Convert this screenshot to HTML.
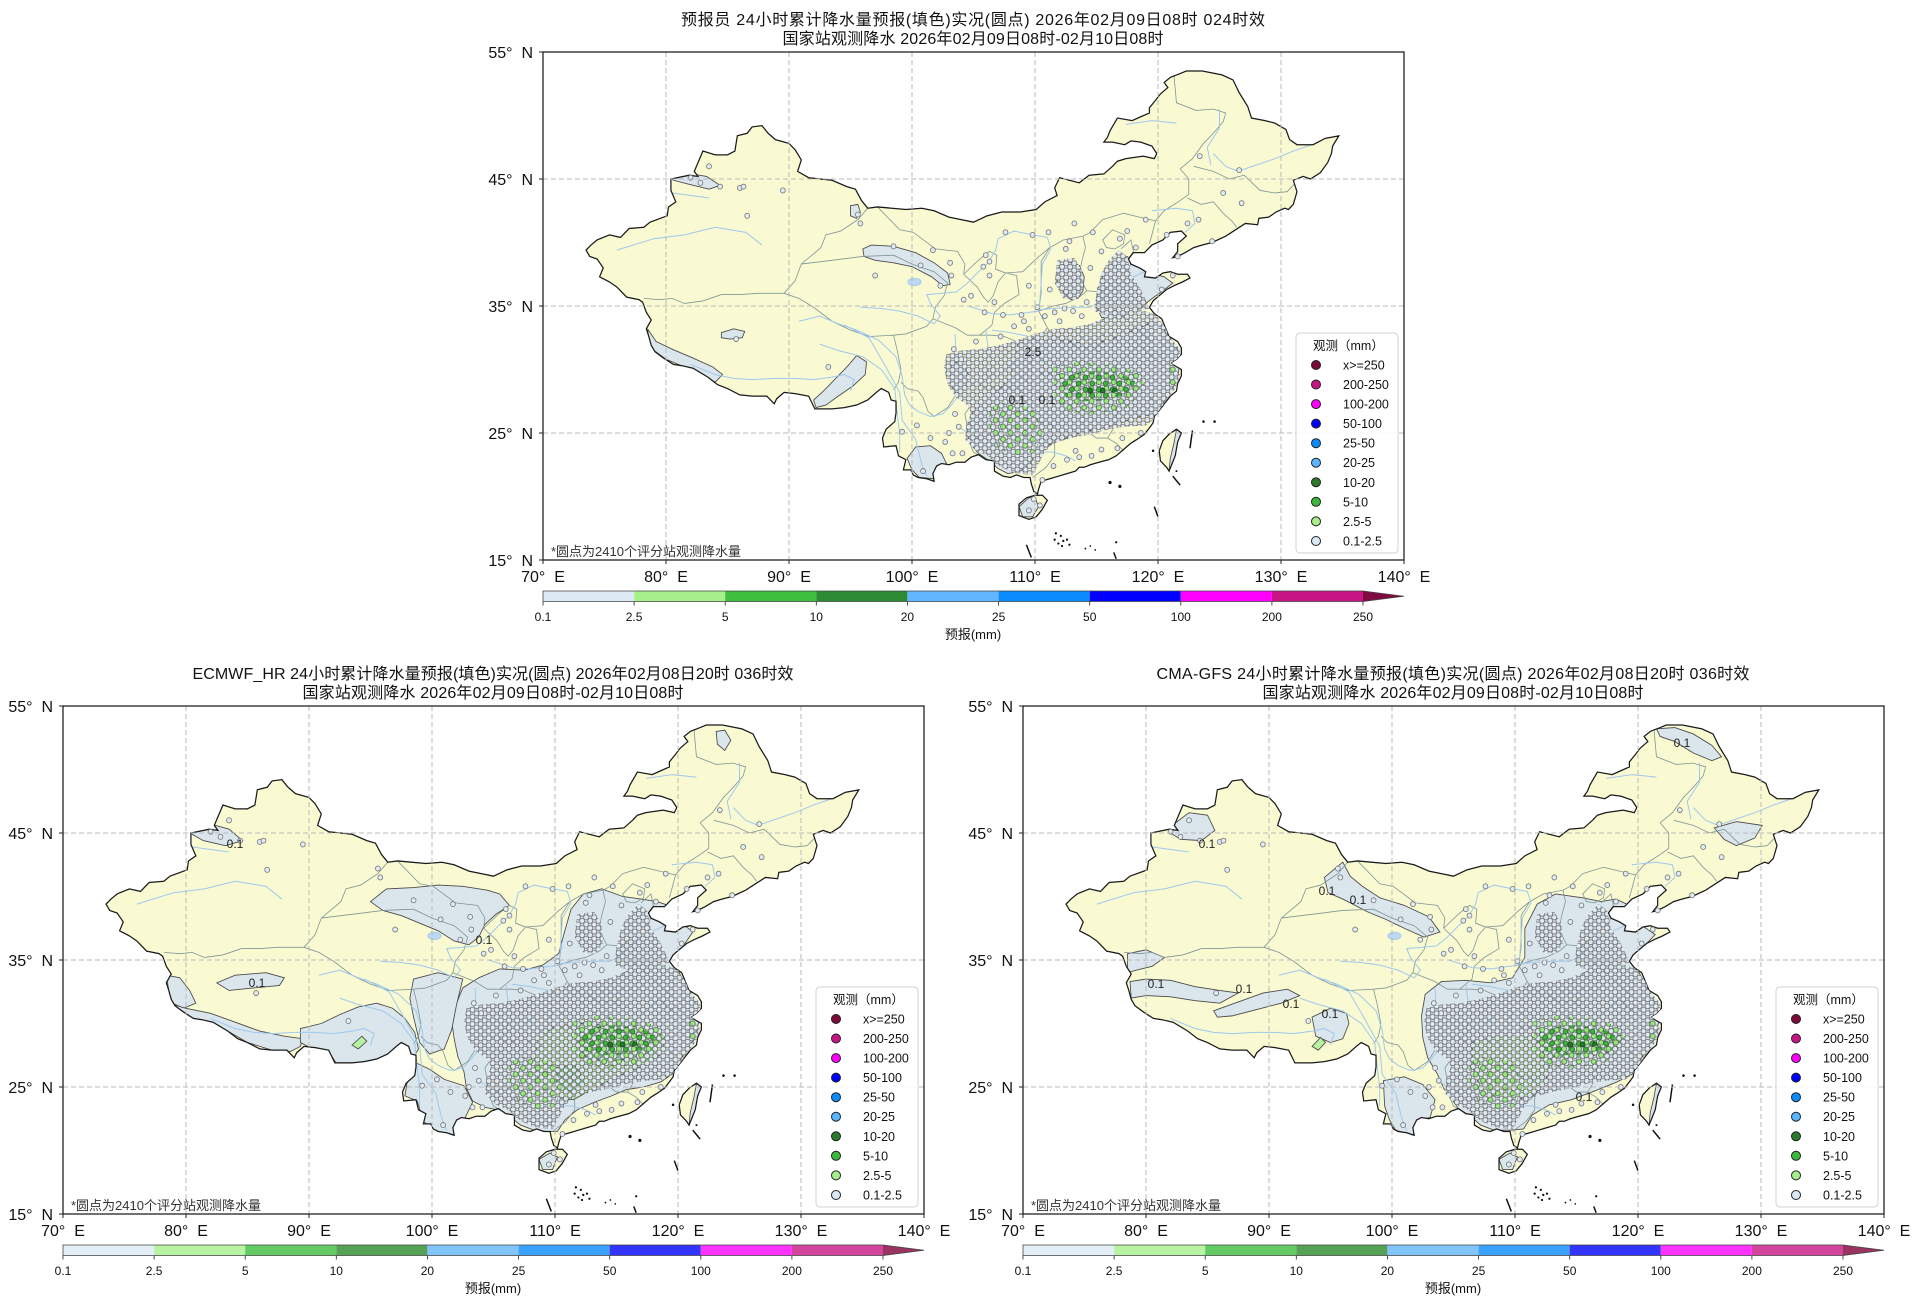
<!DOCTYPE html>
<html><head><meta charset="utf-8"><style>
html,body{margin:0;padding:0;background:#fff}
svg{display:block}
text{font-family:"Liberation Sans","Noto Sans CJK SC",sans-serif;fill:#111}
.t{font-size:16px}.lab{font-size:16px}.cb{font-size:12px}.lg{font-size:12.5px}.fn{font-size:13px;fill:#333}.cl{font-size:12px;fill:#222}
</style></head><body>
<svg xmlns="http://www.w3.org/2000/svg" width="1920" height="1306" viewBox="0 0 1920 1306">
<defs>
<path id="cn" d="M122.3 53.5 L123.6 53.5 125.2 53.2 126.1 52.8 126.6 51.8 127.3 50.7 127.6 49.8 128.7 49.6 129.5 49.4 130.4 48.9 130.7 48.1 131.3 47.7 132.6 47.7 133.6 48.2 134.7 48.4 134.2 47.6 134.1 47.0 133.8 46.3 133.2 45.5 132.4 45.0 131.8 45.2 131.0 44.9 131.3 44.0 131.0 43.0 130.6 42.6 130.3 42.7 129.6 42.4 129.0 42.0 128.2 41.9 128.1 41.4 127.1 41.5 126.3 41.0 125.5 40.5 124.4 40.0 123.6 39.8 122.9 39.6 122.2 39.2 121.6 38.9 121.2 38.8 121.6 39.3 121.6 39.9 122.3 40.5 121.9 40.9 121.0 40.8 120.4 40.2 119.5 39.8 118.9 39.2 118.0 39.2 117.6 38.7 117.8 38.3 118.5 38.0 119.0 37.7 118.9 37.3 119.8 37.2 120.4 37.6 121.0 37.7 121.6 37.5 122.4 37.5 122.6 37.2 122.0 36.9 121.3 36.6 120.7 36.3 120.2 35.9 119.6 35.4 119.3 34.9 119.7 34.4 120.3 34.0 120.6 33.3 120.9 32.6 121.6 32.2 121.9 31.7 121.9 31.2 121.5 30.8 121.0 30.5 121.9 30.0 121.9 29.5 121.6 28.9 121.5 28.3 121.0 27.9 120.6 27.4 120.2 26.9 119.7 26.3 119.6 25.8 119.3 25.4 118.9 24.9 118.3 24.5 117.8 24.2 117.2 23.7 116.6 23.2 116.0 22.9 115.2 22.7 114.5 22.5 114.0 22.3 113.6 22.3 113.3 22.0 112.6 21.8 111.9 21.6 111.2 21.4 110.5 21.2 110.3 20.6 110.2 20.2 109.9 20.4 109.7 21.0 109.6 21.5 109.1 21.5 108.5 21.7 108.0 21.5 107.4 21.6 106.7 22.0 106.7 22.8 106.0 22.9 105.4 23.3 104.8 23.1 104.3 22.7 103.6 22.7 103.0 22.5 102.4 22.6 102.0 22.4 101.7 21.8 101.8 21.2 101.2 21.4 100.5 21.5 100.1 21.7 99.9 22.1 99.3 22.1 99.5 22.9 98.9 23.2 98.7 24.0 97.7 23.9 97.6 24.6 97.9 25.3 98.6 25.9 98.7 26.6 98.7 27.5 98.3 27.6 98.1 28.2 97.5 28.5 97.1 28.2 96.4 27.6 95.5 27.2 94.5 27.0 93.5 26.9 92.1 26.9 91.8 27.5 91.6 27.9 90.5 28.1 89.6 28.2 89.0 27.7 88.8 27.3 88.2 27.9 87.0 27.9 86.0 28.0 85.0 28.5 84.2 28.8 83.4 29.4 82.2 30.1 81.3 30.3 80.6 30.4 79.8 30.9 79.1 31.4 78.8 31.9 78.6 32.6 78.4 33.2 78.8 33.9 78.4 34.5 78.1 35.3 77.8 35.5 76.8 35.7 76.0 36.5 75.4 36.9 74.6 37.3 74.9 38.0 74.4 38.7 73.8 38.9 73.5 39.4 73.9 39.8 74.4 40.2 75.4 40.6 76.3 40.4 77.0 41.1 78.2 41.2 78.7 41.6 80.1 42.1 80.2 42.8 80.8 43.2 80.4 44.1 80.4 45.0 81.9 45.3 82.6 45.2 82.3 45.6 83.0 47.2 84.0 46.9 85.0 46.9 85.6 47.2 85.8 48.4 86.6 48.6 87.0 49.1 87.8 49.2 88.3 48.6 88.9 48.1 90.0 47.8 90.5 47.3 91.0 46.5 90.7 45.6 91.6 45.1 93.5 44.9 94.7 44.4 95.4 44.2 95.9 43.3 96.4 42.7 97.2 42.8 99.5 42.6 100.8 42.7 101.8 42.5 103.0 42.0 104.0 41.8 105.0 41.6 106.1 42.1 107.3 42.4 108.8 42.4 110.1 42.6 110.8 43.2 111.8 43.7 111.6 44.3 112.0 45.1 113.6 44.7 114.4 45.3 115.6 45.4 116.3 46.0 116.7 46.4 117.4 46.6 118.8 46.8 119.7 46.6 119.9 47.0 119.5 47.6 118.6 47.9 117.8 48.0 117.3 47.7 116.3 47.9 115.6 47.9 115.9 48.3 116.1 48.8 116.7 49.8 117.9 49.6 118.6 49.9 119.3 50.2 119.3 50.6 119.8 51.2 120.2 51.7 120.8 52.2 120.5 52.6 121.0 53.0 121.8 53.3 Z M108.7 19.0 L108.7 18.5 109.5 18.2 110.1 18.4 110.6 19.0 111.0 19.7 110.6 20.1 110.0 20.1 109.3 19.9 108.7 19.4 Z M121.5 25.3 L121.9 25.0 121.6 24.3 121.4 23.2 120.9 22.0 120.7 22.3 120.2 22.8 120.1 23.6 120.4 24.4 120.9 24.9 Z"/>
<clipPath id="clipcn"><use href="#cn"/></clipPath>
<pattern id="pd" patternUnits="userSpaceOnUse" width="0.66" height="0.56">
<g fill="#e0eaf4" stroke="#6e6e6e" stroke-width="0.06"><circle cx="0.33" cy="0.28" r="0.2"/><circle cx="0" cy="0" r="0.2"/><circle cx="0.66" cy="0" r="0.2"/><circle cx="0" cy="0.56" r="0.2"/><circle cx="0.66" cy="0.56" r="0.2"/></g></pattern>
<pattern id="pgl" patternUnits="userSpaceOnUse" width="1.2" height="1.0">
<g fill="#9be87f" stroke="#4a6b45" stroke-width="0.06"><circle cx="0.6" cy="0.5" r="0.2"/><circle cx="0" cy="0" r="0.2"/><circle cx="1.2" cy="0" r="0.2"/><circle cx="0" cy="1.0" r="0.2"/><circle cx="1.2" cy="1.0" r="0.2"/></g></pattern>
<pattern id="pgm" patternUnits="userSpaceOnUse" width="1.1" height="0.94">
<g fill="#3cb43c" stroke="#2a5a2a" stroke-width="0.06"><circle cx="0.25" cy="0.7" r="0.2"/><circle cx="0.8" cy="0.23" r="0.2"/></g></pattern>
<pattern id="pgd" patternUnits="userSpaceOnUse" width="1.0" height="0.9">
<g fill="#24782a" stroke="#173f17" stroke-width="0.06"><circle cx="0.5" cy="0.45" r="0.2"/></g></pattern>

<g id="prov" fill="none" stroke="#7f9696" stroke-width="0.065">
<path d="M78.2 35.6 L79.5 35.5 80.5 35.6 81.5 35.2 83 35.4 84.5 35.9 86 35.9 87.5 36 89.6 36 M89.6 36 L90.8 35.6 92 34.9 93.5 33.8 95 33.1 96.5 32.6 98.5 32.7 98.8 31.5 99.1 30 98.9 29 98.5 28.4 M89.6 36 L90.5 37 91 38.3 M96.4 42.7 L95.6 41.8 94.2 40.9 93 40.6 92.6 39.6 91 38.3 M91 38.3 L93.5 38.6 96 38.9 98.5 39 100 38.3 101.8 37.7 102.9 36.8 102.6 35.8 101.9 34.9 101.7 34 101.2 33.4 99.5 32.8 98.5 32.7 M97.2 42.8 L99 41 100.1 40.8 101.9 39.5 103.7 39.3 104.3 38.3 104.2 37.5 M101.7 34 L103.5 33.3 104.5 32.7 105.5 32.7 M105.5 32.7 L106.5 33.5 106.7 34.5 107.5 35.2 108.7 35.9 108.5 37.4 107.6 37.6 M104.2 37.5 L105.5 38.7 106.3 39.3 106.9 39 106.8 37.9 107.6 37.6 107 36.9 106.6 35.8 106.2 35.3 105.8 35.7 105.3 36.5 104.2 37.5 M107.6 37.6 L109 37.7 110.2 38.8 111.2 39.6 112.3 40.2 113.9 40.5 114.5 40.8 115.5 41.8 117.2 42.3 118.5 42 119.8 41.7 120.5 42.5 121.8 43.3 122.5 43.8 122.5 45 121.8 45.8 122.8 46.6 123.7 47.8 124.4 48.5 125.3 49.5 125.5 50.2 124.5 50.5 123.1 50.4 121.5 51 121.3 53.2 M122.9 46 L124.5 45.6 125.8 45 127 45.3 128.3 44.1 129.5 43.9 130.5 44 131.1 44.6 M122.4 43.5 L123.5 43 124.5 43.2 125.3 42.3 126 41.7 126.4 41.2 M119.3 39.9 L119.5 40.6 119.8 41.7 M113.9 40.5 L114.1 39.6 113.8 38.5 113.6 37.5 113.9 36.8 114.2 36.2 M111.2 39.6 L110.5 38.5 110.5 37.5 110.5 36 110.4 35.3 110.3 34.6 M110.3 34.6 L111.5 35 112.5 35.2 113.6 35.7 114.2 36.2 M114.2 36.2 L115.4 36.1 115.9 36.5 116.5 37.3 117.5 37.8 117.8 38.3 M115.4 36.1 L115.5 35.2 116.3 34.7 117 34.6 117.8 34.5 118.5 34.6 119.2 35 M116.3 34.7 L116.6 34.5 115.5 33.9 115.3 33.2 115.6 32.6 115.2 32 114.8 31.5 M117 34.6 L117.3 34 118.3 33.7 118.5 32.9 119.2 32.4 118.8 31.6 119.3 31.1 M111 33.3 L111.5 32.6 112.5 32.4 113.5 31.7 114.5 31.7 114.8 31.5 M110.3 34.6 L111 33.3 M111 33.3 L110.5 32.6 109.5 32.4 108.5 32.2 107.5 32.6 106.5 32.7 105.5 32.7 M108.5 32.2 L108 31.5 107 30.8 106.3 30.2 106 29.5 105.5 28.7 106.3 28.5 M110.2 31.4 L109.5 30.4 108.8 29.3 108.5 28.3 107.4 28.8 106.3 28.5 M109.5 30.2 L110.5 29.7 111.5 29.7 112.5 29.5 113.8 29.3 114.5 29.4 115.5 29.8 116.1 29.8 M116.1 29.8 L115.6 30.2 116.1 30.8 115.8 31.3 114.8 31.5 M116.1 29.8 L117.2 29.6 118.2 29.6 118.8 30.3 119.4 30.9 119.3 31.1 M119.3 31.1 L120.4 31 121 30.7 M118.2 29.6 L118.5 28.5 118.9 27.9 119.7 27.6 120.3 27.2 M118.5 28.5 L117.5 27.6 116.5 26.3 116.4 25.4 115.9 24.6 M114 29.3 L114 28.2 113.8 27.3 113.9 26.3 114 25.3 M114 25.3 L115 24.6 115.9 24.6 M115.9 24.6 L116.6 24.2 117.2 23.6 M114 25.3 L113.3 25.4 112.5 25 111.8 25.1 111.3 25.7 110.5 25.8 110 26.2 109.5 26.2 M109.5 26.2 L109.3 27.3 108.8 28.2 109.3 29 109.5 30.2 M111.3 24.9 L111.6 24.3 111.6 23.2 110.9 22.3 109.8 21.5 M109.5 26.2 L108.5 25.6 107.3 25.4 106.2 24.9 105.5 24.7 104.6 24.4 M104.6 24.4 L105 23.5 105.5 23.2 M104.6 24.4 L104.5 25.5 104.3 26.5 104.8 27.2 105.5 27.8 106.3 28.5 M104.4 28.5 L103.7 28.2 102.9 27 101.8 26.3 101.3 26.7 100.9 27.8 100.5 28.3 99.6 28.5 99.1 29 M115.5 40.2 L116.3 41 117.3 40.6 117.2 39.9 116.5 39.5 115.8 39.6 Z M117 39.5 L117.8 40.2 118 39.3 117.5 38.6 117 38.9"/>
</g>
<g id="riv" fill="none" stroke="#9ec8ee" stroke-width="0.08">
<path d="M95.8 34.9 L97.5 34.8 99 34.6 100.5 34.2 101.8 33.6 102.3 34.2 101.5 35.2 101.2 35.9 102.5 36 103.6 36.1 104.5 36.8 105.2 37.5 106.2 38.4 106.8 39.4 107 40.3 108.3 40.9 109.8 40.6 111 40.4 111.3 39.5 110.6 38.3 110.5 36.8 110.4 35.5 110.3 34.7 111.5 34.8 113 34.9 114.5 34.9 115.5 35.5 116.3 36.2 117 36.8 118 37.3 118.9 37.7 M90.8 33.8 L92.5 34.2 94 33.6 95.5 33.1 97.3 32.3 98.7 31 99.2 29.5 99.4 28 99.8 27.2 100.5 26.7 101.5 26.3 102.5 26.5 103.2 27.2 104 28.2 104.7 28.8 105.6 29 106.5 29.6 107.4 29.9 108.4 30.6 109.5 31 110.5 30.8 111.3 30.5 112.3 30.2 113 29.6 113.8 30 114.3 30.6 115 30.2 116 29.8 117 30.6 117.8 31.3 118.5 32 119.5 32.2 120.5 31.9 121.5 31.6 M106.5 33.1 L108 32.9 109.5 32.6 110.8 32.6 112 32.1 112.5 31 113.5 30.8 114.2 30.6 M103.8 25.5 L104.8 24.8 106 24.3 107.2 23.8 108.4 23.5 109.5 23.4 110.5 23.5 111.4 23.5 112.5 23.2 113.3 22.8 M115 25.5 L115 26.8 115.5 28 116 29 M111.5 25.5 L112.5 26.9 113 28.3 112.9 29.2 M103.5 32.8 L103.6 31 104 29.6 104.6 28.8 M106 33.2 L106.2 31.5 106.5 30.2 M104.6 35 L106.5 34.4 108 34.3 109.5 34.5 110.3 34.6 M82 30.4 L84 29.6 85.5 29.3 87 29.2 88.8 29.3 90.5 29.3 92 29.2 93.5 29.4 94.5 29.6 95.3 29.2 95 28.3 M92.5 32 L94 31.5 96 31 97.5 30 98.6 28.5 98.8 26.5 99 25 99 23.5 M94.5 33.5 L96.5 32.5 97.7 30.5 99 28.2 99.2 26 100.3 24.5 100.8 22.5 101.2 21.6 M113.5 32.5 L115 32.4 116.5 32.8 118 33.3 118.8 33.2 M117.4 49.3 L119.5 49.6 121.5 49.4 M124.5 47 L125.5 46 126.5 45.6 128 46.1 129.5 46.6 131 47.2 132.5 47.7 M125 50.5 L125 49 124 47.5 124.3 46.1 M119.5 42.5 L121.5 42.7 122.8 42.5 123 41.5 122.2 40.8 M76 39.4 L79 40.3 81.5 40.6 84 41.2 86.5 40.8 87.8 39.8 M80.5 43.9 L82 43.7 83.5 43.5"/>
<g fill="#bcd8f0" stroke="#9ec8ee" stroke-width="0.05"><ellipse cx="100.2" cy="36.9" rx="0.55" ry="0.3"/><ellipse cx="116.3" cy="29.1" rx="0.25" ry="0.35"/><ellipse cx="112.9" cy="29.2" rx="0.3" ry="0.2"/><ellipse cx="120.2" cy="31.2" rx="0.25" ry="0.2"/></g>
</g>
<g id="misc" fill="#111" stroke="#111">
<path fill="none" stroke-width="0.12" d="M109.3 16.2 L109.7 15.2 M119.7 19.2 L120.0 18.4 M121.2 21.6 L121.8 20.9 M122.8 25.2 L122.6 23.8 M116.4 15.6 L116.6 15.1"/>
<g stroke="none"><circle cx="123.7" cy="25.9" r="0.1"/><circle cx="124.6" cy="25.9" r="0.1"/><circle cx="116.1" cy="21.1" r="0.13"/><circle cx="116.9" cy="20.8" r="0.13"/><circle cx="111.7" cy="17.1" r="0.09"/><circle cx="112.1" cy="16.9" r="0.09"/><circle cx="112.3" cy="16.5" r="0.09"/><circle cx="111.9" cy="16.3" r="0.09"/><circle cx="112.6" cy="16.6" r="0.09"/><circle cx="112.8" cy="16.2" r="0.09"/><circle cx="111.6" cy="16.6" r="0.09"/><circle cx="112.2" cy="16.1" r="0.09"/><circle cx="114.1" cy="15.9" r="0.07"/><circle cx="114.5" cy="16.1" r="0.07"/><circle cx="114.9" cy="15.8" r="0.07"/><circle cx="116.6" cy="16.4" r="0.09"/><circle cx="119.6" cy="23.6" r="0.1"/><circle cx="121.5" cy="22.0" r="0.08"/></g>
</g>
<g id="obs">
<g clip-path="url(#clipcn)" stroke="none">
<polygon fill="url(#pd)" points="102.8,31.2 104,31.5 105.5,31.6 107,31.9 108.5,32.3 110,32.8 111.5,33.2 113,33.3 114.5,33.6 116,34.2 117.5,34.5 119,34.6 119.8,34.3 120.6,33.3 120.9,32.6 121.8,31.6 121.8,30.8 121.2,30.3 121.8,29.6 121.5,28.6 120.7,27.6 120.1,26.8 119.6,26 119,25.6 117.5,25.5 116,25.3 114.5,24.9 113,24.6 111.5,24.2 110.8,23.5 110.2,22.4 109.8,21.7 108.5,21.8 107.5,22.2 106.8,22.6 106.2,23.2 105.2,23.6 104.3,24.5 104.4,25.6 104.8,26.6 104.5,27.2 103.6,27.8 102.9,28.8 102.6,30.1"/>
<polygon fill="url(#pd)" points="114.8,34.6 115,36 115.4,37.6 116,38.6 116.8,39.4 117.5,38.9 117.8,37.5 118.5,36.5 119,35.5 119.3,34.8 117.5,34.4 116,34.2"/>
<polygon fill="url(#pd)" points="111.8,38.6 113.2,38.8 113.8,37.8 113.9,36.3 113.3,35.5 112.3,35.6 111.6,36.8"/>
<polygon fill="url(#pgl)" points="106.3,27 108,27.5 110,26.8 110.6,25 110,23.5 108.5,23.2 107,23.8 106.2,25.5"/>
<polygon fill="url(#pgl)" points="111.5,30.2 113.5,30.6 116,30.4 118.5,29.8 119,28.5 117.5,27 115,26.5 113,26.6 111.6,27.6"/>
<polygon fill="url(#pgl)" points="120.8,30.5 121.6,30.2 121.5,28.5 120.8,28.8"/>
<polygon fill="url(#pgm)" points="112,29.4 114,29.9 116.5,29.7 118.2,29.2 117.8,28.2 116,27.6 114,27.5 112.5,27.8"/>
<polygon fill="url(#pgd)" points="113.5,28.7 115,28.9 116.5,28.8 116.8,28.3 115.5,27.9 114,28"/>
</g>
<g fill="#e0eaf4" stroke="#6e6e6e" stroke-width="0.06">
<circle cx="82" cy="45.1" r="0.2"/><circle cx="82.8" cy="44.7" r="0.2"/><circle cx="83.5" cy="46" r="0.2"/><circle cx="84.4" cy="44.4" r="0.2"/><circle cx="86" cy="44.3" r="0.2"/><circle cx="86.3" cy="44.4" r="0.2"/><circle cx="89.5" cy="44.1" r="0.2"/><circle cx="86.6" cy="42.1" r="0.2"/><circle cx="95.8" cy="41.5" r="0.2"/><circle cx="95.6" cy="42.2" r="0.2"/><circle cx="101.7" cy="39.4" r="0.2"/><circle cx="103.1" cy="38.4" r="0.2"/><circle cx="103.2" cy="37.4" r="0.2"/><circle cx="100.7" cy="38.2" r="0.2"/><circle cx="106" cy="39" r="0.2"/><circle cx="106.3" cy="38.5" r="0.2"/><circle cx="109.1" cy="33.8" r="0.2"/><circle cx="111.2" cy="36.3" r="0.2"/><circle cx="113.2" cy="41.5" r="0.2"/><circle cx="122.4" cy="41.5" r="0.2"/><circle cx="126.8" cy="43.1" r="0.2"/><circle cx="123.4" cy="46.8" r="0.2"/><circle cx="103" cy="25" r="0.2"/><circle cx="85.7" cy="32.4" r="0.2"/><circle cx="93.2" cy="30.2" r="0.2"/><circle cx="102.3" cy="36.6" r="0.2"/><circle cx="104.8" cy="35.8" r="0.2"/><circle cx="107.4" cy="34.3" r="0.2"/><circle cx="108.9" cy="34.3" r="0.2"/><circle cx="109.5" cy="36.6" r="0.2"/><circle cx="112.5" cy="39.5" r="0.2"/><circle cx="114.7" cy="40.8" r="0.2"/><circle cx="121.6" cy="38.9" r="0.2"/><circle cx="124.4" cy="40.1" r="0.2"/><circle cx="125.3" cy="43.9" r="0.2"/><circle cx="126.6" cy="45.7" r="0.2"/><circle cx="117.5" cy="40.9" r="0.2"/><circle cx="119" cy="41.8" r="0.2"/><circle cx="97" cy="37.4" r="0.2"/><circle cx="98.5" cy="39.7" r="0.2"/><circle cx="100.4" cy="25.6" r="0.2"/><circle cx="99.2" cy="25.1" r="0.2"/><circle cx="101.5" cy="24.6" r="0.2"/><circle cx="100.9" cy="22" r="0.2"/><circle cx="110.2" cy="34.9" r="0.2"/><circle cx="108.3" cy="33.4" r="0.2"/><circle cx="114.6" cy="23.2" r="0.2"/><circle cx="113.3" cy="23.6" r="0.2"/><circle cx="116.7" cy="23.8" r="0.2"/><circle cx="110.4" cy="19.3" r="0.2"/>
<circle cx="104" cy="30.8" r="0.2"/><circle cx="103.4" cy="31.6" r="0.2"/><circle cx="105.2" cy="32.2" r="0.2"/><circle cx="107.2" cy="32.6" r="0.2"/><circle cx="109.5" cy="33.2" r="0.2"/><circle cx="112" cy="33.8" r="0.2"/><circle cx="113.8" cy="34.2" r="0.2"/><circle cx="114.2" cy="35.3" r="0.2"/><circle cx="113.1" cy="34.6" r="0.2"/><circle cx="112.4" cy="34.8" r="0.2"/><circle cx="111.6" cy="34.5" r="0.2"/><circle cx="110.8" cy="34.2" r="0.2"/><circle cx="105.9" cy="34.5" r="0.2"/><circle cx="106.7" cy="35.3" r="0.2"/><circle cx="104.2" cy="35.5" r="0.2"/><circle cx="103.5" cy="26.5" r="0.2"/><circle cx="103.8" cy="25.5" r="0.2"/><circle cx="102.7" cy="24.3" r="0.2"/><circle cx="103.3" cy="23.4" r="0.2"/><circle cx="104.1" cy="23.4" r="0.2"/><circle cx="113.6" cy="23.1" r="0.2"/><circle cx="112.6" cy="22.9" r="0.2"/><circle cx="115.4" cy="23.7" r="0.2"/><circle cx="117.1" cy="24.6" r="0.2"/><circle cx="118.6" cy="25" r="0.2"/><circle cx="111.5" cy="22.4" r="0.2"/><circle cx="110.6" cy="21.3" r="0.2"/><circle cx="109.9" cy="19.8" r="0.2"/><circle cx="109.5" cy="18.9" r="0.2"/><circle cx="116.9" cy="40.3" r="0.2"/><circle cx="115.4" cy="39.3" r="0.2"/><circle cx="114.5" cy="38" r="0.2"/><circle cx="120.3" cy="36.3" r="0.2"/><circle cx="121.2" cy="37.4" r="0.2"/><circle cx="118.2" cy="39.6" r="0.2"/><circle cx="120.7" cy="40.6" r="0.2"/><circle cx="123.3" cy="41.8" r="0.2"/><circle cx="112.8" cy="40.1" r="0.2"/><circle cx="111.1" cy="40.8" r="0.2"/><circle cx="109.8" cy="40.6" r="0.2"/><circle cx="107.6" cy="40.8" r="0.2"/><circle cx="105.8" cy="38.1" r="0.2"/><circle cx="106.3" cy="37.4" r="0.2"/>
</g>
</g>

<g id="frame">
<g stroke="#b8b8b8" stroke-width="1" stroke-dasharray="5 3" fill="none">
<path d="M123 0V508M246 0V508M369 0V508M492 0V508M615 0V508M738 0V508M0 127H861M0 254H861M0 381H861"/>
</g>
<rect x="0" y="0" width="861" height="508" fill="none" stroke="#222" stroke-width="1.3"/>
<path stroke="#222" stroke-width="1" d="M0 508v4M123 508v4M246 508v4M369 508v4M492 508v4M615 508v4M738 508v4M861 508v4M-4 0h4M-4 127h4M-4 254h4M-4 381h4M-4 508h4"/>
<g class="lab" text-anchor="middle">
<text x="0" y="530">70°&#160; E</text><text x="123" y="530">80°&#160; E</text><text x="246" y="530">90°&#160; E</text><text x="369" y="530">100°&#160; E</text><text x="492" y="530">110°&#160; E</text><text x="615" y="530">120°&#160; E</text><text x="738" y="530">130°&#160; E</text><text x="861" y="530">140°&#160; E</text>
</g>
<g class="lab" text-anchor="end">
<text x="-10" y="6">55°&#160; N</text><text x="-10" y="133">45°&#160; N</text><text x="-10" y="260">35°&#160; N</text><text x="-10" y="387">25°&#160; N</text><text x="-10" y="514">15°&#160; N</text>
</g>
<text class="fn" x="8" y="504">*圆点为2410个评分站观测降水量</text>
<rect x="753" y="281" width="102" height="220" rx="4" fill="#fff" fill-opacity="0.85" stroke="#d0d0d0" stroke-width="1"/>
<text class="lg" x="770" y="298">观测（mm）</text>
<g stroke="#222" stroke-width="1">
<circle cx="773" cy="313" r="4.5" fill="#7a0a3a"/><circle cx="773" cy="332.5" r="4.5" fill="#c71585"/><circle cx="773" cy="352.1" r="4.5" fill="#ff00ff"/><circle cx="773" cy="371.6" r="4.5" fill="#0000ff"/><circle cx="773" cy="391.2" r="4.5" fill="#0a8cff"/><circle cx="773" cy="410.7" r="4.5" fill="#5ab4ff"/><circle cx="773" cy="430.3" r="4.5" fill="#2b7a2b"/><circle cx="773" cy="449.8" r="4.5" fill="#3cb83c"/><circle cx="773" cy="469.4" r="4.5" fill="#a6ef8c"/><circle cx="773" cy="489" r="4.5" fill="#dbe8f5"/>
</g>
<g class="lg">
<text x="800" y="317.5">x&gt;=250</text><text x="800" y="337">200-250</text><text x="800" y="356.6">100-200</text><text x="800" y="376.1">50-100</text><text x="800" y="395.7">25-50</text><text x="800" y="415.2">20-25</text><text x="800" y="434.8">10-20</text><text x="800" y="454.3">5-10</text><text x="800" y="473.9">2.5-5</text><text x="800" y="493.5">0.1-2.5</text>
</g>
<path stroke="#222" stroke-width="0.8" d="M0 549.5v4M91.1 549.5v4M182.2 549.5v4M273.3 549.5v4M364.4 549.5v4M455.6 549.5v4M546.7 549.5v4M637.8 549.5v4M728.9 549.5v4M820 549.5v4"/>
<g class="cb" text-anchor="middle">
<text x="0" y="569">0.1</text><text x="91.1" y="569">2.5</text><text x="182.2" y="569">5</text><text x="273.3" y="569">10</text><text x="364.4" y="569">20</text><text x="455.6" y="569">25</text><text x="546.7" y="569">50</text><text x="637.8" y="569">100</text><text x="728.9" y="569">200</text><text x="820" y="569">250</text>
</g>
<text class="cb" x="430" y="587" text-anchor="middle" style="font-size:13px">预报(mm)</text>
</g>
</defs>

<rect width="1920" height="1306" fill="#fff"/>

<!-- PANEL 1 -->
<g transform="translate(543,52)">
<g transform="matrix(12.3 0 0 -12.7 -861 698.5)">
<use href="#cn" fill="#fafad2"/>
<g clip-path="url(#clipcn)" fill="#dae6ec" stroke="#4a4a4a" stroke-width="0.07">
<polygon points="108.6,32 109.8,32.4 111.5,32.3 113,32.2 114.5,32 116,32.3 117.5,32.9 118.8,33.4 119.8,33.9 120.6,33 121.5,31.8 121.8,30.7 121.6,29.3 121,28.2 120.3,27.2 119.6,26.3 119.1,26.4 118,26.2 117,25.8 116,25.5 115,25.3 114,25.1 113,24.8 112,24.4 111,24 110.2,23.6 109.6,22.6 108.8,22 107.8,21.8 107,22.2 106.3,22.8 105.4,23.4 104.7,24.2 104.5,25.3 104.8,26.4 105.4,27.3 106.3,28 107.3,28.6 108,29.5 108.3,30.6"/>
<polygon points="103.2,30.5 104,30.6 104.6,29.6 104.3,28.4 103.6,28.1 103.1,28.9"/>
<polygon points="115.5,37.3 116.2,38.3 117.5,38.9 118.3,38.2 119.3,37.6 120.5,37.3 121.2,36.8 120.4,36.2 119.4,35.5 118.5,34.8 117.5,34.3 116.3,34 115.4,34.1 115,35 115.1,36.4"/>
<polygon points="111.9,38 112.6,38.5 113.6,38.2 114,37.3 113.9,36.2 113.5,35.6 112.9,35.5 112.3,36.1 111.8,37"/>
<polygon points="96,39.5 96.7,39.8 98.5,39.7 100.3,39.2 101.8,38.4 102.9,37.6 103.1,36.7 102.5,36.6 101.6,37.3 100,38.1 98.5,38.4 97,38.6 96.1,38.9"/>
<polygon points="80.1,45.3 81.5,45.5 83.3,45.2 84.4,44.5 83.5,44.2 81.8,44.6 80.6,44.9"/>
<polygon points="95,42.9 95.6,43 95.8,42.4 95.5,41.9 95,42.1"/>
<polygon points="84.5,32.9 85.5,33.2 86.4,33 86.2,32.5 85.2,32.4 84.5,32.5"/>
<polygon points="95.5,31.1 96.3,30.6 96.2,29.6 95.2,28.7 94,27.9 93,27.2 92.2,27 92,27.6 92.8,28.3 93.8,29.3 94.8,30.3"/>
<polygon points="78.5,33.2 79.2,32.2 80.5,31.6 82.2,30.9 83.8,30.2 84.6,29.6 84,29 83,29.6 81.5,30.2 80,30.8 78.9,31.6 78.6,32.5"/>
<polygon points="100.3,23.9 101.5,24 102.4,23.4 102.8,22.6 102.2,22.4 101.8,21.4 100.6,21.5 100,22.1 99.6,23"/>
<polygon points="108.7,19.2 109.5,19.9 110,19.9 110.3,19.2 109.8,18.4 109,18.4"/>
<polygon points="121.5,25.3 121.9,25 121.6,24.3 121.4,23.2 120.9,22 121,23 121.3,24.2"/>
</g>
<use href="#prov"/><use href="#riv"/>
<use href="#cn" fill="none" stroke="#1a1a1a" stroke-width="0.1"/>
<use href="#misc"/><use href="#obs"/>
</g>
<use href="#frame"/>
<g stroke="#444" stroke-width="0.8">
<rect x="0" y="539" width="91.1" height="10.5" fill="#dde9f5" stroke="none"/><rect x="91.1" y="539" width="91.1" height="10.5" fill="#a6f08c" stroke="none"/><rect x="182.2" y="539" width="91.1" height="10.5" fill="#3dbe3d" stroke="none"/><rect x="273.3" y="539" width="91.1" height="10.5" fill="#2b8a33" stroke="none"/><rect x="364.4" y="539" width="91.2" height="10.5" fill="#62b6ff" stroke="none"/><rect x="455.6" y="539" width="91.1" height="10.5" fill="#0a8cff" stroke="none"/><rect x="546.7" y="539" width="91.1" height="10.5" fill="#0000fe" stroke="none"/><rect x="637.8" y="539" width="91.1" height="10.5" fill="#ff00ff" stroke="none"/><rect x="728.9" y="539" width="91.1" height="10.5" fill="#c81585" stroke="none"/><path d="M820 539 L861 544.25 L820 549.5 Z" fill="#7f0a3f" stroke="none"/>
<path d="M0 539 H820 L861 544.25 L820 549.5 H0 Z" fill="none"/>
</g>
<text class="t" x="430" y="-27" text-anchor="middle" textLength="584" lengthAdjust="spacing">预报员 24小时累计降水量预报(填色)实况(圆点) 2026年02月09日08时 024时效</text>
<text class="t" x="430" y="-8" text-anchor="middle" textLength="381" lengthAdjust="spacing">国家站观测降水 2026年02月09日08时-02月10日08时</text>
<text class="cl" x="490" y="304" text-anchor="middle">2.5</text>
<text class="cl" x="474" y="352" text-anchor="middle">0.1</text>
<text class="cl" x="504" y="352" text-anchor="middle">0.1</text>
</g>

<!-- PANEL 2 ECMWF -->
<g transform="translate(63,706)">
<g transform="matrix(12.3 0 0 -12.7 -861 698.5)">
<use href="#cn" fill="#fafad2"/>
<g clip-path="url(#clipcn)" fill="#dae6ec" stroke="#4a4a4a" stroke-width="0.07">
<polygon points="102.5,32.8 103.8,33.6 105.5,34.3 107.5,34.2 109,34.6 110.3,35.5 110.8,37.3 111.3,39 112.3,40.2 113.8,40.6 115.5,40 117,39.8 118.3,39.6 119.5,39.2 120.2,38 121.2,37.2 120.5,36.2 119.5,35.1 120.2,33.8 121.3,32 121.8,30.5 121.3,28.8 120.3,27.3 119.5,26 118.6,25.4 117.2,25 115.8,24.8 114.6,24.3 113.2,23.8 111.8,23.2 110.8,22.4 110.2,21.5 109.3,21.5 108.3,21.6 107.2,22 106.3,22.7 105.3,23.2 104.3,23.4 103.3,23.9 102.8,24.9 102.6,26.2 102.1,27.4 101.8,28.8 101.6,30.2 102,31.6"/>
<polygon points="98.5,33.5 100.5,34 102.5,33.5 102,31.5 101.6,29.5 101,28 99.8,27.6 99,28.5 98.5,30.5 98.2,32"/>
<polygon points="95,39.6 96.3,40.6 98.5,40.7 100.5,40.9 102.5,40.8 104.5,40.5 105.5,40.2 106.3,39.3 105.2,38.6 104.3,37.8 103.8,36.8 103,36.2 101.8,36.5 100.5,37.3 99,37.9 97.5,38.5 96,38.9"/>
<polygon points="80.2,45.4 82,45.7 83.5,45.3 84.6,44.4 83.2,44 81.4,44.4 80.5,44.9"/>
<polygon points="82.5,33.2 84,33.8 86.5,34 88,33.6 87.6,33 85.5,32.8 83.5,32.6"/>
<polygon points="78.4,33.8 79.5,33.6 80.3,32.6 80.8,31.6 79.8,31.2 78.9,31.6 78.6,32.6"/>
<polygon points="78.9,31.5 80,31.2 82,30.8 84,30.1 86,29.4 88,29 89.5,28.8 89.3,28.2 88.5,27.8 87,27.9 85,28.5 83.4,29.4 82.2,30.1 80.6,30.4 79.6,30.9"/>
<polygon points="89.3,29.6 91,30 92.5,30.7 94,31.3 95.5,31.6 96.8,31.2 97.8,30.4 98.6,29.3 98.9,28 98.5,27.3 97.4,27.8 96,27.3 94,26.9 92.2,26.9 91.6,27.8 90.1,28.1 89.3,28.5"/>
<polygon points="98.5,27 99.8,26.4 101,25.6 102.6,25.1 103.3,23.8 102.6,22.4 101.7,21.2 100.2,21.6 99.3,22.3 98.8,23.9 97.8,24.3 98,25.5"/>
<polygon points="123.1,53 123.8,53.1 124.3,52.3 123.8,51.5 123.2,52"/>
<polygon points="108.7,19.3 109.6,19.8 110.2,19.5 109.8,18.5 109,18.5"/>
<polygon points="121.5,25.3 121.9,25 121.6,24.3 121.4,23.2 120.9,22 121,23 121.3,24.2"/>
<polygon fill="#b6f2a0" points="108.6,28.8 110,29.8 112,30 114,29.9 116,29.8 118,29.5 119,28.8 118.5,27.5 117,26.6 115,25.8 113,24.8 111.5,24 110,24.2 108.8,25.2 108.3,26.8"/>
<polygon fill="#66cc66" points="112,29.2 114,29.5 116.5,29.4 118.5,28.8 118,27.8 116,27.2 114,27 112.5,27.4 111.8,28.3"/>
<polygon fill="#66cc66" points="110,26.5 111.5,26.8 112.5,25.5 111.5,24.6 110.2,25"/>
<polygon fill="#b6f2a0" points="93.5,28.3 94.3,29 94.7,28.6 94,28"/>
</g>
<use href="#prov"/><use href="#riv"/>
<use href="#cn" fill="none" stroke="#1a1a1a" stroke-width="0.1"/>
<use href="#misc"/><use href="#obs"/>
</g>
<use href="#frame"/>
<g>
<rect x="0" y="539" width="91.1" height="10.5" fill="#e4eef7"/><rect x="91.1" y="539" width="91.1" height="10.5" fill="#b8f3a3"/><rect x="182.2" y="539" width="91.1" height="10.5" fill="#64cb64"/><rect x="273.3" y="539" width="91.1" height="10.5" fill="#55a155"/><rect x="364.4" y="539" width="91.2" height="10.5" fill="#81c5ff"/><rect x="455.6" y="539" width="91.1" height="10.5" fill="#3ba3ff"/><rect x="546.7" y="539" width="91.1" height="10.5" fill="#3333fe"/><rect x="637.8" y="539" width="91.1" height="10.5" fill="#ff33ff"/><rect x="728.9" y="539" width="91.1" height="10.5" fill="#d3449d"/><path d="M820 539 L861 544.25 L820 549.5 Z" fill="#99335f"/>
<path d="M0 539 H820 L861 544.25 L820 549.5 H0 Z" fill="none" stroke="#444" stroke-width="0.8"/>
</g>
<text class="t" x="430" y="-27" text-anchor="middle" textLength="601" lengthAdjust="spacing">ECMWF_HR 24小时累计降水量预报(填色)实况(圆点) 2026年02月08日20时 036时效</text>
<text class="t" x="430" y="-8" text-anchor="middle" textLength="381" lengthAdjust="spacing">国家站观测降水 2026年02月09日08时-02月10日08时</text>
<text class="cl" x="172" y="142" text-anchor="middle">0.1</text>
<text class="cl" x="421" y="238" text-anchor="middle">0.1</text>
<text class="cl" x="194" y="281" text-anchor="middle">0.1</text>
</g>

<!-- PANEL 3 CMA-GFS -->
<g transform="translate(1023,706)">
<g transform="matrix(12.3 0 0 -12.7 -861 698.5)">
<use href="#cn" fill="#fafad2"/>
<g clip-path="url(#clipcn)" fill="#dae6ec" stroke="#4a4a4a" stroke-width="0.07">
<polygon points="102.7,32.3 104,33.3 106,33.4 108,33.2 109.8,33.6 110.8,35.2 110.8,37.5 111.8,39.4 113.3,40.2 115.5,39.9 117,39.6 118.2,39.8 119.3,39.3 119.6,38.5 120.5,37.6 121.4,37 120.5,36.1 119.5,35.1 120.2,33.8 121.2,32 121.8,30.5 121.3,28.8 120.3,27.3 119.5,26 118.3,25.4 116.5,24.7 114.6,24 112.8,23.6 111.4,22.8 110.7,21.7 109.6,21.6 108.3,21.6 107.2,22 106.4,22.7 105.4,23.3 104.2,24.9 103.7,26 102.9,27.3 102.5,28.9 102.4,30.6"/>
<polygon points="99.3,25.5 101,25.8 102.5,25.2 103.5,24 103.1,22.6 102.2,22.4 101.7,21.2 100.3,21.6 99.8,22.4 99.4,23.5"/>
<polygon points="94.5,41.5 96,42.7 96.6,41.6 97.6,40.8 99,39.9 101,39.3 103,38.4 103.9,37.2 102.6,36.8 101,37.5 99.5,38.2 98,38.8 96,39.8 94.8,40.3"/>
<polygon points="82.4,45.8 83.5,46.6 85,46.4 85.6,45.2 84.5,44.4 82.8,44.5 82,45"/>
<polygon points="78.5,35.5 80,35.8 81.5,35.2 80.5,34.5 79.2,34.2 78.5,34"/>
<polygon points="78.7,33.3 80,33.5 82,33.4 84,32.9 86,32.6 87.5,32.4 86,31.6 84,31.8 82,32.1 80,32.2 78.8,32"/>
<polygon points="85.5,31 87.5,31.7 89.5,32.4 91.5,32.7 92.5,32.2 91,31.6 89,31.1 87,30.6 85.8,30.5"/>
<polygon points="93.5,30.5 95,31.2 96.3,30.8 96.5,30 96,28.8 95,28.5 93.8,29"/>
<polygon points="121.5,53.2 123,53.3 124.5,52.8 126,51.9 126.8,51 126,50.7 124.5,51.3 123,52.2 121.8,52.6"/>
<polygon points="126.2,45.4 128,45.9 130.1,45.6 129.5,44.6 128,44 127,44.5"/>
<polygon points="108.7,19.3 109.6,19.8 110.2,19.5 109.8,18.5 109,18.5"/>
<polygon points="121.5,25.3 121.9,25 121.6,24.3 121.4,23.2 120.9,22 121,23 121.3,24.2"/>
<polygon fill="#b6f2a0" points="106.5,28.5 108.5,29 110.5,29 112.5,28.8 113,27.5 112.5,25.5 111.5,24.3 110,24 108.5,24.2 107.2,24.8 106.6,26.5"/>
<polygon fill="#66cc66" points="112,29.2 114,29.6 116.5,29.5 118.8,29 118.3,27.9 116,27.4 114,27.2 112.4,27.6 111.8,28.4"/>
<polygon fill="#b6f2a0" points="93.5,28.2 94.2,28.9 94.6,28.5 94,27.9"/>
</g>
<use href="#prov"/><use href="#riv"/>
<use href="#cn" fill="none" stroke="#1a1a1a" stroke-width="0.1"/>
<use href="#misc"/><use href="#obs"/>
</g>
<use href="#frame"/>
<g>
<rect x="0" y="539" width="91.1" height="10.5" fill="#e4eef7"/><rect x="91.1" y="539" width="91.1" height="10.5" fill="#b8f3a3"/><rect x="182.2" y="539" width="91.1" height="10.5" fill="#64cb64"/><rect x="273.3" y="539" width="91.1" height="10.5" fill="#55a155"/><rect x="364.4" y="539" width="91.2" height="10.5" fill="#81c5ff"/><rect x="455.6" y="539" width="91.1" height="10.5" fill="#3ba3ff"/><rect x="546.7" y="539" width="91.1" height="10.5" fill="#3333fe"/><rect x="637.8" y="539" width="91.1" height="10.5" fill="#ff33ff"/><rect x="728.9" y="539" width="91.1" height="10.5" fill="#d3449d"/><path d="M820 539 L861 544.25 L820 549.5 Z" fill="#99335f"/>
<path d="M0 539 H820 L861 544.25 L820 549.5 H0 Z" fill="none" stroke="#444" stroke-width="0.8"/>
</g>
<text class="t" x="430" y="-27" text-anchor="middle" textLength="593" lengthAdjust="spacing">CMA-GFS 24小时累计降水量预报(填色)实况(圆点) 2026年02月08日20时 036时效</text>
<text class="t" x="430" y="-8" text-anchor="middle" textLength="381" lengthAdjust="spacing">国家站观测降水 2026年02月09日08时-02月10日08时</text>
<text class="cl" x="184" y="142" text-anchor="middle">0.1</text>
<text class="cl" x="304" y="189" text-anchor="middle">0.1</text>
<text class="cl" x="335" y="198" text-anchor="middle">0.1</text>
<text class="cl" x="133" y="282" text-anchor="middle">0.1</text>
<text class="cl" x="221" y="287" text-anchor="middle">0.1</text>
<text class="cl" x="268" y="302" text-anchor="middle">0.1</text>
<text class="cl" x="307" y="312" text-anchor="middle">0.1</text>
<text class="cl" x="561" y="395" text-anchor="middle">0.1</text>
<text class="cl" x="659" y="41" text-anchor="middle">0.1</text>
</g>
</svg>
</body></html>
